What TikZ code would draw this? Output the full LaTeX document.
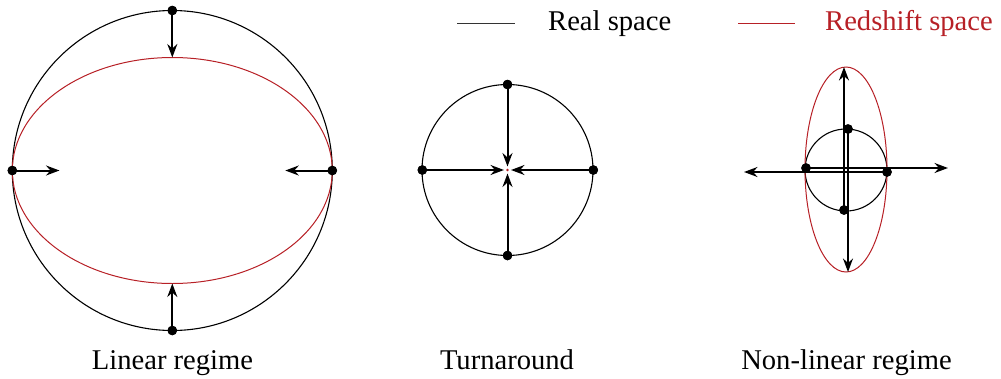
\documentclass[tikz,border=0pt]{standalone}
\usepackage{fontspec}
\setmainfont{Liberation Serif}
\usetikzlibrary{arrows.meta,shapes.geometric}
\definecolor{rsred}{RGB}{183,32,38}
\tikzset{
  realline/.style={draw=black,line width=1.1pt},
  zline/.style={draw=rsred,line width=1.0pt},
  dot/.style={circle,fill=black,inner sep=0pt,minimum size=9.5pt},
  arr/.style={line width=2pt,-{Stealth[length=13.5pt,width=10pt,inset=4.5pt]}},
  lbl/.style={inner sep=0pt,font=\rmfamily\fontsize{28.6}{34}\selectfont},
}
\begin{document}
\begin{tikzpicture}[x=1pt,y=-1pt]
\useasboundingbox (0,0) rectangle (1001,378);
% ---------- Linear regime ----------
\node[realline,circle,inner sep=0pt,minimum size=320pt] (Lcirc) at (172.3,170.5) {};
\node[zline,ellipse,inner sep=0pt,minimum width=320pt,minimum height=226pt] (Lell) at (172.3,170.5) {};
\node[dot] (Lt) at (172.3,10.5) {};
\node[dot] (Lb) at (172.3,330.5) {};
\node[dot] (Ll) at (12.3,170.5) {};
\node[dot] (Lr) at (332.3,170.5) {};
\coordinate (Lte) at (172.3,57.5);
\coordinate (Lbe) at (172.3,283.5);
\coordinate (Lle) at (59.5,170.5);
\coordinate (Lre) at (285.3,170.5);
\draw[arr] (Lt.center) -- (Lte);
\draw[arr] (Lb.center) -- (Lbe);
\draw[arr] (Ll.center) -- (Lle);
\draw[arr] (Lr.center) -- (Lre);
\node[dot] at (Lt) {};
\node[dot] at (Lb) {};
\node[dot] at (Ll) {};
\node[dot] at (Lr) {};
% ---------- Turnaround ----------
\node[realline,circle,inner sep=0pt,minimum size=171pt] (Tcirc) at (507.5,170) {};
\node[zline,circle,inner sep=0pt,minimum size=1.5pt] (Tpt) at (507.5,170) {};
\node[dot] (Tt) at (507.5,84.5) {};
\node[dot] (Tb) at (507.5,255.5) {};
\node[dot] (Tl) at (422.3,170) {};
\node[dot] (Tr) at (593.3,170) {};
\coordinate (Tte) at (507.5,166.5);
\coordinate (Tbe) at (507.5,173.5);
\coordinate (Tle) at (504,170);
\coordinate (Tre) at (511,170);
\draw[arr] (Tt.center) -- (Tte);
\draw[arr] (Tb.center) -- (Tbe);
\draw[arr] (Tl.center) -- (Tle);
\draw[arr] (Tr.center) -- (Tre);
\node[dot] at (Tt) {};
\node[dot] at (Tb) {};
\node[dot] at (Tl) {};
\node[dot] at (Tr) {};
% ---------- Non-linear regime ----------
\node[realline,circle,inner sep=0pt,minimum size=82pt] (Ncirc) at (846,170) {};
\node[zline,ellipse,inner sep=0pt,minimum width=82pt,minimum height=205pt] (Nell) at (846,169.5) {};
\node[dot] (Nt) at (848,129) {};
\node[dot] (Nb) at (844,210) {};
\node[dot] (Nl) at (806,168) {};
\node[dot] (Nr) at (887,172) {};
\coordinate (Nte) at (848,272);
\coordinate (Nbe) at (844,67);
\coordinate (Nle) at (948,168);
\coordinate (Nre) at (744,172);
\draw[arr] (Nt.center) -- (Nte);
\draw[arr] (Nb.center) -- (Nbe);
\draw[arr] (Nl.center) -- (Nle);
\draw[arr] (Nr.center) -- (Nre);
\node[dot] at (Nt) {};
\node[dot] at (Nb) {};
\node[dot] at (Nl) {};
\node[dot] at (Nr) {};
% ---------- Legend ----------
\coordinate (k1) at (457,23);
\coordinate (k2) at (515,23);
\coordinate (r1) at (738,23);
\coordinate (r2) at (795,23);
\draw[black!80,line width=0.9pt] (k1) -- (k2);
\draw[rsred,line width=0.9pt] (r1) -- (r2);
\node[lbl,anchor=base west] (realtxt) at (548,30) {Real space};
\node[lbl,anchor=base west,text=rsred] (redtxt) at (825,30) {Redshift space};
% ---------- Captions ----------
\node[lbl,anchor=base] (cap1) at (172.5,369) {Linear regime};
\node[lbl,anchor=base] (cap2) at (507,369) {Turnaround};
\node[lbl,anchor=base] (cap3) at (846.5,369) {Non-linear regime};
\end{tikzpicture}
\end{document}
